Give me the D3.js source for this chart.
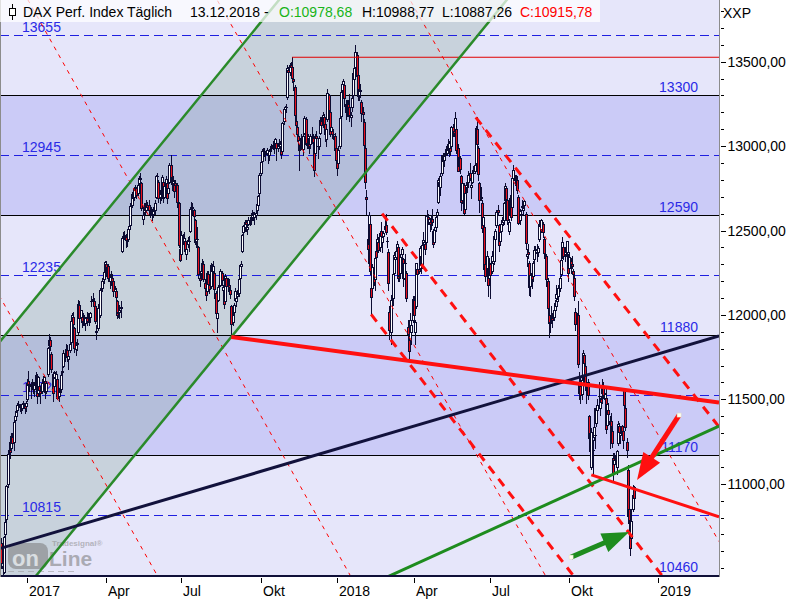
<!DOCTYPE html>
<html><head><meta charset="utf-8">
<script src="https://cdn.jsdelivr.net/npm/d3@7"></script>
<style>body{margin:0;background:#fff}svg{display:block}</style>
</head><body>
<svg id="chart" width="800" height="600"></svg>
<script>
// ---------------- DATA ----------------
// Xetra holidays inside the shown period (trading calendar = weekdays minus these)
const holidays = ["2016-12-26","2017-04-14","2017-04-17","2017-05-01","2017-12-25","2017-12-26",
  "2018-01-01","2018-03-30","2018-04-02","2018-05-01"];
const firstDay = "2016-12-01", lastDay = "2018-12-13";

// daily OHLC, one line per month (Dec 2016 ... Dec 2018)
const open = [
10650,10500,10480,10700,10790,11000,11180,11200,11210,11280,11250,11380,11400,11440,11470,11460,11450,11450,11480,11470,11460,
11500,11610,11590,11580,11580,11590,11560,11590,11640,11540,11580,11550,11550,11600,11600,11610,11550,11650,11820,11850,11770,11650,
11580,11630,11620,11620,11520,11550,11560,11660,11700,11770,11780,11790,11740,11790,11840,11970,11990,11920,11800,11830,
11900,12060,11980,11990,11960,11970,11950,11990,11980,11990,11990,12080,12090,12080,12050,11900,11920,12060,12000,12150,12160,12210,12260,
12300,12240,12290,12200,12230,12220,12200,12140,12140,12080,12010,12020,12040,12380,12460,12470,12460,12440,
12450,12510,12530,12650,12730,12700,12740,12750,12720,12780,12810,12780,12570,12610,12640,12620,12650,12650,12620,12610,12620,12600,
12620,12700,12820,12790,12700,12720,12740,12790,12700,12770,12780,12720,12790,12890,12800,12780,12780,12780,12770,12640,12660,12390,
12360,12460,12440,12440,12360,12420,12440,12500,12630,12640,12620,12560,12440,12450,12400,12220,12250,12280,12300,12190,12150,
12140,12240,12180,12170,12290,12260,12250,12130,11980,12090,12170,12180,12250,12150,12130,12080,12220,12180,12180,12150,12050,11960,12020,
12090,12080,12110,12130,12220,12290,12380,12490,12520,12550,12510,12540,12560,12560,12580,12600,12580,12590,12620,12650,12720,
12840,12910,12970,12970,12960,12960,12960,12950,12980,12990,13000,13000,13010,13020,12990,13010,13000,13000,12970,13150,13220,13230,
13290,13450,13440,13480,13470,13400,13350,13150,13110,13060,12980,12990,13040,12980,13080,13160,13020,13010,13050,13010,13060,13050,
13020,12960,13060,13000,13000,13080,13150,13140,13170,13130,13040,13160,13300,13200,13090,13090,13070,13060,12990,
12920,12900,13000,13180,13330,13370,13360,13250,13210,13250,13230,13170,13230,13300,13400,13470,13540,13420,13300,13330,13260,13200,
13140,12990,12700,12450,12420,12540,12160,12160,12250,12210,12380,12380,12430,12400,12500,12430,12470,12510,12530,12440,
12370,12020,11900,12120,12100,12250,12330,12380,12400,12230,12250,12360,12330,12220,12310,12250,11930,11880,11850,11900,11970,
12090,11900,12050,12270,12270,12280,12350,12300,12430,12420,12430,12590,12580,12550,12560,12570,12500,12430,12520,12590,
12670,12790,12760,12840,12940,12920,12950,12960,13010,12980,12990,13000,13110,13090,13100,13100,12990,12880,12930,12820,12680,12770,
12630,12760,12780,12790,12840,12760,12790,12840,12850,12900,13100,12990,12780,12700,12660,12530,12520,12300,12260,12280,12220,
12300,12260,12310,12320,12450,12530,12620,12530,12440,12500,12550,12560,12680,12750,12680,12500,12590,12690,12640,12810,12810,12790,
12800,12700,12560,12590,12640,12620,12650,12600,12350,12370,12310,12170,12250,12230,12330,12390,12370,12370,12450,12530,12510,12540,12450,
12340,12350,12200,12000,11950,11990,11980,11990,12030,12100,12080,12110,12160,12240,12350,12400,12360,12380,12370,12350,
12280,12320,12300,12260,12220,12020,11950,12000,11600,11580,11530,11630,11760,11700,11560,11600,11400,11300,11100,11200,11280,11290,11360,
11440,11520,11450,11500,11540,11570,11500,11510,11350,11440,11370,11370,11310,11150,11120,11170,11100,11240,11340,11290,11340,11310,
11560,11450,11250,11080,10850,10720,10680,10850,10978.68];
const high = [
10680,10580,10690,10790,10990,11200,11250,11230,11300,11300,11380,11430,11440,11480,11490,11470,11460,11480,11490,11480,11490,
11620,11670,11610,11600,11620,11600,11600,11660,11650,11640,11590,11580,11620,11640,11640,11620,11610,11810,11890,11870,11780,11660,
11670,11660,11670,11640,11570,11580,11660,11710,11790,11800,11830,11820,11770,11840,11980,12010,12020,11930,11840,11860,
12090,12080,12030,12010,12010,12000,11990,12020,12010,12000,12020,12110,12130,12100,12070,11940,12060,12090,12160,12170,12220,12270,12320,
12320,12300,12300,12240,12260,12240,12210,12170,12160,12090,12080,12060,12080,12470,12490,12500,12480,12460,
12520,12550,12660,12720,12740,12760,12770,12760,12780,12820,12840,12790,12620,12660,12660,12680,12670,12680,12640,12640,12630,12640,
12680,12830,12840,12800,12740,12740,12830,12800,12780,12820,12790,12770,12900,12950,12820,12820,12800,12800,12780,12690,12670,12440,
12500,12480,12490,12450,12410,12460,12470,12640,12670,12660,12630,12570,12470,12520,12410,12260,12290,12330,12320,12210,12170,
12260,12260,12200,12310,12300,12320,12260,12140,12030,12180,12190,12270,12260,12180,12140,12240,12230,12220,12210,12160,12060,12030,12070,
12160,12120,12150,12230,12300,12320,12480,12530,12560,12560,12540,12580,12580,12580,12620,12610,12610,12620,12670,12710,12840,
12910,12980,12990,12990,12970,12990,12970,12980,13000,13010,13030,13010,13050,13030,13020,13040,13030,13020,13140,13230,13240,13250,
13480,13470,13490,13500,13530,13420,13360,13180,13130,13090,13010,13070,13060,13070,13180,13170,13040,13070,13060,13070,13110,13070,
13040,13070,13090,13020,13060,13170,13170,13200,13190,13150,13120,13340,13310,13230,13140,13100,13100,13080,13000,
12950,13000,13180,13330,13380,13400,13370,13270,13270,13270,13310,13200,13300,13450,13470,13600,13560,13450,13360,13370,13270,13230,
13160,13000,12740,12490,12610,12550,12240,12300,12270,12350,12440,12480,12460,12500,12550,12480,12500,12560,12600,12460,
12390,12050,12110,12180,12260,12370,12380,12440,12410,12280,12360,12400,12340,12320,12360,12260,11970,11920,12010,11960,12110,
12110,11970,12310,12290,12350,12410,12360,12430,12490,12440,12590,12620,12600,12570,12590,12630,12510,12520,12590,12630,
12810,12810,12840,12950,12960,12960,12980,13010,13040,13030,13000,13120,13130,13130,13200,13110,13010,12950,12940,12830,12800,12780,
12740,12790,12800,12850,12900,12780,12860,12880,12910,13120,13170,13000,12790,12760,12680,12600,12540,12330,12380,12290,12340,
12310,12380,12350,12470,12510,12620,12650,12540,12520,12560,12590,12670,12780,12760,12700,12570,12710,12720,12830,12890,12830,12830,
12820,12710,12630,12620,12680,12660,12680,12610,12390,12420,12320,12260,12270,12320,12410,12410,12420,12410,12560,12560,12570,12550,12460,
12370,12360,12220,12050,12000,12050,12010,12070,12090,12180,12110,12180,12230,12350,12460,12420,12400,12430,12440,12360,
12370,12340,12350,12270,12240,12040,12010,12080,11660,11640,11630,11790,11770,11720,11600,11620,11410,11360,11330,11260,11450,11330,11460,
11500,11600,11510,11520,11620,11600,11540,11560,11480,11480,11400,11420,11360,11180,11180,11190,11200,11370,11360,11330,11350,11330,
11570,11470,11270,11110,10900,10760,10850,10990,10988.77];
const low = [
10500,10420,10474,10680,10770,10980,11150,11150,11190,11220,11200,11370,11380,11420,11450,11430,11420,11440,11450,11420,11430,
11490,11570,11550,11510,11560,11540,11520,11560,11480,11530,11520,11480,11540,11570,11580,11510,11540,11640,11810,11790,11660,11490,
11560,11580,11590,11500,11490,11520,11550,11640,11690,11730,11750,11730,11680,11780,11830,11950,11930,11780,11760,11790,
11890,11970,11960,11930,11940,11940,11910,11940,11960,11940,11960,12050,12070,12030,11950,11860,11910,12020,11990,12110,12140,12190,12240,
12230,12230,12200,12160,12180,12180,12110,12110,12090,11980,11990,11980,11990,12370,12430,12450,12400,12410,
12440,12480,12520,12640,12670,12680,12730,12690,12710,12760,12790,12620,12540,12600,12600,12610,12620,12600,12580,12590,12560,12580,
12600,12690,12790,12670,12660,12680,12730,12670,12690,12740,12660,12700,12780,12800,12740,12750,12700,12750,12650,12600,12400,12320,
12350,12420,12420,12360,12330,12400,12380,12490,12610,12600,12570,12420,12400,12380,12220,12170,12210,12260,12200,12120,12090,
12130,12150,12130,12160,12240,12240,12100,12000,11900,12080,12140,12170,12180,12080,12040,12070,12150,12140,12130,12100,11870,11940,12000,
12080,12050,12080,12110,12170,12270,12370,12470,12500,12500,12480,12530,12530,12540,12560,12560,12540,12570,12600,12630,12710,
12830,12900,12940,12940,12920,12950,12900,12920,12960,12970,12980,12960,12990,12920,12970,12990,12970,12930,12960,13130,13190,13200,
13280,13400,13420,13440,13380,13330,13140,13080,13030,12990,12860,12980,12980,12950,13070,13010,12990,12990,12960,12990,13020,12990,
12820,12950,13030,12930,12980,13070,13100,13110,13110,13030,13000,13150,13200,13060,13070,13050,13040,12960,12900,
12830,12890,12990,13170,13300,13320,13240,13160,13180,13180,13150,13120,13210,13290,13380,13460,13380,13270,13270,13290,13150,13140,
12980,12750,12600,12310,12400,12240,12000,12130,12180,12150,12330,12360,12370,12380,12460,12370,12440,12500,12480,12400,
12150,11860,11830,12080,12060,12220,12290,12370,12200,12200,12220,12330,12170,12210,12280,12080,11830,11730,11840,11830,11960,
11950,11830,12040,12160,12250,12270,12250,12280,12420,12360,12420,12550,12540,12500,12510,12530,12400,12420,12500,12570,
12660,12720,12710,12830,12880,12880,12930,12950,12970,12940,12950,12990,13060,13060,13090,12960,12850,12860,12840,12620,12660,12600,
12610,12730,12730,12760,12800,12690,12780,12820,12840,12880,13000,12800,12610,12680,12490,12510,12250,12200,12240,12110,12200,
12100,12250,12280,12300,12370,12520,12590,12380,12430,12480,12530,12540,12670,12670,12540,12480,12580,12560,12610,12790,12770,12740,
12720,12540,12540,12570,12620,12600,12630,12390,12290,12340,12120,12110,12160,12200,12310,12340,12320,12350,12440,12500,12490,12460,12350,
12300,12170,11990,11870,11900,11950,11930,11970,12000,12080,12050,12090,12140,12230,12340,12330,12320,12350,12340,12200,
12270,12250,12280,12170,12090,11910,11920,11690,11500,11480,11500,11610,11670,11560,11480,11500,11230,11180,11090,11050,11260,11210,11340,
11410,11470,11410,11460,11480,11510,11480,11300,11340,11360,11210,11300,11220,11010,11100,11110,11060,11230,11250,11240,11260,11210,
11430,11320,11160,10770,10700,10580,10650,10840,10887.26];
const close = [
10534,10513,10684,10775,10986,11179,11203,11190,11284,11244,11366,11404,11427,11464,11468,11456,11450,11473,11475,11451,11481,
11598,11584,11585,11585,11599,11563,11583,11646,11521,11630,11555,11540,11599,11599,11630,11545,11595,11806,11849,11815,11682,11535,
11659,11627,11651,11509,11549,11543,11642,11667,11774,11772,11793,11757,11757,11827,11967,11998,11948,11804,11823,11834,
12067,11984,12027,11958,11966,11967,11979,11963,11990,11989,12009,12083,12095,12052,11962,11904,12040,12064,12149,12149,12203,12256,12313,
12257,12282,12218,12230,12225,12200,12139,12155,12109,12000,12016,12027,12048,12455,12467,12472,12443,12438,
12507,12528,12648,12717,12694,12749,12757,12711,12770,12808,12804,12631,12590,12638,12619,12659,12642,12622,12602,12628,12599,12615,
12664,12823,12823,12690,12722,12714,12816,12690,12765,12805,12691,12753,12889,12814,12774,12794,12733,12771,12671,12647,12416,12325,
12475,12437,12453,12381,12389,12445,12437,12627,12641,12632,12587,12430,12452,12447,12240,12209,12263,12305,12212,12162,12118,
12251,12181,12154,12298,12258,12292,12154,12014,12014,12165,12177,12263,12204,12165,12066,12230,12174,12181,12168,12124,11946,12002,12056,
12143,12102,12123,12215,12297,12304,12476,12524,12553,12540,12519,12560,12561,12569,12601,12592,12595,12606,12657,12705,12829,
12903,12970,12970,12968,12956,12976,12949,12971,12983,12992,13004,12996,13044,12990,13003,13004,13014,12953,13134,13218,13229,13230,
13465,13440,13479,13468,13406,13383,13182,13127,13074,13033,12976,13047,12994,13059,13168,13015,13009,13060,13000,13060,13061,13024,
12861,13058,13049,12999,13045,13154,13123,13183,13126,13069,13104,13312,13215,13070,13110,13073,13070,12979,12918,
12871,12978,13167,13320,13367,13386,13282,13202,13245,13201,13184,13183,13282,13434,13464,13560,13414,13298,13340,13324,13198,13189,
13004,12785,12687,12392,12590,12261,12107,12282,12196,12339,12346,12452,12385,12488,12470,12461,12484,12527,12490,12436,
12190,11913,12090,12114,12245,12355,12346,12418,12221,12237,12345,12390,12217,12308,12307,12101,11886,11787,11970,11940,12097,
12002,11957,12305,12241,12261,12397,12294,12415,12442,12392,12585,12591,12567,12540,12572,12550,12422,12501,12581,12612,
12802,12763,12820,12948,12912,12943,12955,13001,12977,13018,12970,13115,13078,13078,13169,12977,12855,12938,12863,12666,12783,12605,
12724,12771,12788,12830,12811,12767,12843,12842,12890,13107,13011,12834,12678,12695,12512,12580,12270,12233,12349,12177,12306,
12238,12350,12318,12465,12496,12609,12609,12417,12492,12541,12581,12661,12765,12687,12561,12549,12690,12579,12809,12860,12799,12806,
12737,12546,12616,12599,12648,12634,12676,12424,12358,12358,12163,12238,12211,12310,12384,12386,12366,12395,12538,12527,12561,12494,12364,
12346,12210,12040,11955,11960,11986,11971,12032,12055,12124,12096,12157,12219,12327,12431,12350,12375,12385,12435,12247,
12346,12287,12287,12244,12111,11947,11977,11712,11539,11524,11614,11777,11715,11589,11554,11524,11274,11192,11307,11201,11336,11287,11447,
11468,11519,11495,11484,11579,11527,11529,11325,11472,11412,11354,11341,11244,11066,11139,11136,11193,11355,11309,11299,11298,11257,
11465,11335,11200,10811,10788,10622,10780,10931,10915.78];

// horizontal levels
const solidLevels  = [13300, 12590, 11880, 11170, 10460];
const dashedLevels = [13655, 12945, 12235, 11525, 10815];
const shadedBands  = [[12590, 13300], [11170, 11880]];
const resistanceRed = 13526;            // thin red horizontal from the Nov-2017 high
const resistanceStart = 239;             // trading-day index of 2017-11-07

// axis
const yMajorTicks = [11000, 11500, 12000, 12500, 13000, 13500];
const yMinorTicks = d3.range(10500, 13900, 100);
const xTickDates  = ["2017-01-02","2017-04-03","2017-07-03","2017-10-02","2018-01-02","2018-04-03","2018-07-02","2018-10-01","2019-01-02"];
const xTickLabels = ["2017","Apr","Jul","Okt","2018","Apr","Jul","Okt","2019"];

// drawn lines: [tradingDayIndex, value] anchors
const channelUpper = [[-2, 11836], [240, 13969]];
const channelLower = [[-2, 10187], [420, 13905]];
const navyLine     = [[-2, 10615], [590, 11876]];
const redThick     = [[189, 11870], [590, 11481]];
const redLower     = [[485, 11053], [590, 10805]];
const greenLower   = [[300, 10392], [590, 11342]];
const dashThick = [
  [[390, 13170], [590, 11337]],
  [[313, 12600], [545, 10440]],
  [[304, 12003], [472, 10440]]];
const dashThin = [
  [[-2, 12117], [130, 10433]],
  [[18, 13914], [290, 10416]],
  [[174, 13907], [450, 10422]],
  [[333, 13903], [590, 10658]]];
const redArrow   = [[557.2, 11407], [522.6, 11022]];
const greenArrow = [[468.4, 10566], [516.1, 10714]];

// ---------------- CHART ----------------
const FONT = "'Liberation Sans', Arial, sans-serif";
const svg = d3.select("#chart");
const plotW = 719, plotH = 576;

// trading calendar
const dates = [];
for (let t = Date.parse(firstDay + "T00:00:00Z"); t <= Date.parse(lastDay + "T00:00:00Z"); t += 864e5) {
  const d = new Date(t), wd = d.getUTCDay(), s = d.toISOString().slice(0, 10);
  if (wd > 0 && wd < 6 && !holidays.includes(s)) dates.push(s);
}
function dateIndex(s) {
  const k = dates.indexOf(s);
  if (k >= 0) return k;
  // future area: spaced by calendar days after the last bar
  return dates.length - 1 + (Date.parse(s) - Date.parse(lastDay)) / 864e5;
}

const x = d3.scaleLinear().domain([-1.2, 590]).range([0, 719]);
const y = d3.scaleLinear().domain([10460, 13865]).range([575, 0]);

// background
svg.append("rect").attr("width", 800).attr("height", 600).attr("fill", "#fff");
svg.append("defs").append("clipPath").attr("id", "plot")
  .append("rect").attr("x", 0).attr("y", 0).attr("width", plotW).attr("height", plotH);
const plot = svg.append("g").attr("clip-path", "url(#plot)");
plot.append("rect").attr("width", plotW).attr("height", plotH).attr("fill", "#e6e6fa");
plot.selectAll(".band").data(shadedBands).join("rect")
  .attr("x", 0).attr("width", plotW)
  .attr("y", d => y(d[1])).attr("height", d => y(d[0]) - y(d[1]))
  .attr("fill", "#cbcbf7");

// channel fill
const line = d3.line().x(d => x(d[0])).y(d => y(d[1]));
plot.append("path")
  .attr("d", line([channelUpper[0], channelUpper[1], channelLower[1], channelLower[0]]) + "Z")
  .attr("fill", "rgb(110,150,130)").attr("fill-opacity", 0.25);

// levels
plot.selectAll(".sl").data(solidLevels).join("line")
  .attr("x1", 0).attr("x2", plotW)
  .attr("y1", d => Math.round(y(d)) + 0.5).attr("y2", d => Math.round(y(d)) + 0.5)
  .attr("stroke", "#000").attr("stroke-width", 1);
plot.selectAll(".dl").data(dashedLevels).join("line")
  .attr("x1", 0).attr("x2", plotW)
  .attr("y1", d => Math.round(y(d)) + 0.5).attr("y2", d => Math.round(y(d)) + 0.5)
  .attr("stroke", "#1f1fe0").attr("stroke-width", 1).attr("stroke-dasharray", "9,5");
plot.selectAll(".sll").data(solidLevels).join("text")
  .attr("x", 698).attr("y", d => y(d) - 3.5).attr("text-anchor", "end")
  .attr("font-family", FONT).attr("font-size", 14).attr("fill", "#2a2ae6").text(d => d);
plot.selectAll(".dll").data(dashedLevels).join("text")
  .attr("x", 22).attr("y", d => y(d) - 3.5)
  .attr("font-family", FONT).attr("font-size", 14).attr("fill", "#2a2ae6").text(d => d);

// logo
const logo = plot.append("g").attr("opacity", 0.55);
logo.append("rect").attr("x", 8).attr("y", 543).attr("width", 40).attr("height", 26).attr("rx", 8).attr("fill", "#7a7a7a");
logo.append("text").attr("x", 12).attr("y", 566).attr("font-family", FONT).attr("font-weight", "bold")
  .attr("font-size", 22).attr("fill", "#e8e8e8").text("on");
logo.append("text").attr("x", 49).attr("y", 566).attr("font-family", FONT).attr("font-weight", "bold")
  .attr("font-size", 21).attr("fill", "#7a7a7a").text("Line");
logo.append("text").attr("x", 52).attr("y", 546).attr("font-family", FONT).attr("font-weight", "bold")
  .attr("font-size", 8).attr("fill", "#8a8a8a").text("Tradesignal®");
logo.append("line").attr("x1", 8).attr("x2", 75).attr("y1", 571.5).attr("y2", 571.5)
  .attr("stroke", "#999").attr("stroke-dasharray", "6,4");

// candles
const cg = plot.append("g");
const n = Math.min(open.length, high.length, low.length, close.length, dates.length);
for (let i = 0; i < n; i++) {
  const bx = Math.round(x(i));
  const up = close[i] >= open[i];
  const top = Math.round(y(Math.max(open[i], close[i])));
  const bot = Math.round(y(Math.min(open[i], close[i])));
  cg.append("line").attr("x1", bx + 0.5).attr("x2", bx + 0.5)
    .attr("y1", Math.round(y(high[i]))).attr("y2", Math.round(y(low[i])) + 1)
    .attr("stroke", "#0c0c32").attr("stroke-width", 1);
  cg.append("rect").attr("x", bx - 1).attr("y", top).attr("width", 3).attr("height", Math.max(1, bot - top + 1))
    .attr("fill", "#0c0c32");
  if (bot - top > 1) {
    cg.append("rect").attr("x", bx).attr("y", top + 1).attr("width", 1).attr("height", bot - top - 1)
      .attr("fill", up ? "#ffffff" : "#e8101a");
  }
}

// trend lines
plot.append("path").attr("d", line([[resistanceStart, resistanceRed], [590, resistanceRed]]))
  .attr("stroke", "#e00000").attr("stroke-width", 1.2).attr("fill", "none");
dashThin.forEach(a => plot.append("path").attr("d", line(a)).attr("fill", "none")
  .attr("stroke", "#ff0000").attr("stroke-width", 1).attr("stroke-dasharray", "4,5"));
dashThick.forEach(a => plot.append("path").attr("d", line(a)).attr("fill", "none")
  .attr("stroke", "#ff1010").attr("stroke-width", 3).attr("stroke-dasharray", "9,7"));
[channelUpper, channelLower].forEach(a => plot.append("path").attr("d", line(a)).attr("fill", "none")
  .attr("stroke", "#2a8a2a").attr("stroke-width", 2.5));
plot.append("path").attr("d", line(navyLine)).attr("fill", "none").attr("stroke", "#12123c").attr("stroke-width", 3);
plot.append("path").attr("d", line(greenLower)).attr("fill", "none").attr("stroke", "#1e8c1e").attr("stroke-width", 3);
plot.append("path").attr("d", line(redThick)).attr("fill", "none").attr("stroke", "#ff1010").attr("stroke-width", 4);
plot.append("path").attr("d", line(redLower)).attr("fill", "none").attr("stroke", "#ff1010").attr("stroke-width", 3);

// arrows
function arrow(a, color, w) {
  const x0 = x(a[0][0]), y0 = y(a[0][1]), x1 = x(a[1][0]), y1 = y(a[1][1]);
  const L = Math.hypot(x1 - x0, y1 - y0), ux = (x1 - x0) / L, uy = (y1 - y0) / L;
  const hl = 27, hw = 10, bx = x1 - ux * hl, by = y1 - uy * hl;
  plot.append("line").attr("x1", x0).attr("y1", y0).attr("x2", bx + ux * 4).attr("y2", by + uy * 4)
    .attr("stroke", color).attr("stroke-width", w);
  plot.append("polygon").attr("points", [[x1, y1], [bx - uy * hw, by + ux * hw], [bx + uy * hw, by - ux * hw]].join(" "))
    .attr("fill", color);
  plot.append("rect").attr("x", x0 - 2).attr("y", y0 - 2).attr("width", 4).attr("height", 4)
    .attr("fill", "#fffff0").attr("stroke", "#e0e0c0").attr("stroke-width", 0.5);
}
arrow(redArrow, "#ff1010", 5);
arrow(greenArrow, "#1e8c1e", 5);

// frame
svg.append("line").attr("x1", 0).attr("x2", plotW).attr("y1", 576).attr("y2", 576)
  .attr("stroke", "#101038").attr("stroke-width", 2);
svg.append("line").attr("x1", 719.5).attr("x2", 719.5).attr("y1", 0).attr("y2", 577)
  .attr("stroke", "#8c8c8c").attr("stroke-width", 1);
svg.append("line").attr("x1", 0.5).attr("x2", 0.5).attr("y1", 0).attr("y2", 577)
  .attr("stroke", "#8c8c8c").attr("stroke-width", 1);

// right axis
svg.selectAll(".ymin").data(yMinorTicks).join("line")
  .attr("x1", 721).attr("x2", 724).attr("y1", d => Math.round(y(d)) + 0.5).attr("y2", d => Math.round(y(d)) + 0.5)
  .attr("stroke", "#000");
svg.selectAll(".ymaj").data(yMajorTicks).join("line")
  .attr("x1", 721).attr("x2", 726).attr("y1", d => Math.round(y(d)) + 0.5).attr("y2", d => Math.round(y(d)) + 0.5)
  .attr("stroke", "#000");
svg.selectAll(".ylab").data(yMajorTicks).join("text")
  .attr("x", 727.5).attr("y", d => y(d) + 5)
  .attr("font-family", FONT).attr("font-size", 14).attr("fill", "#000")
  .text(d => d.toFixed(2).replace(".", ","));
svg.append("text").attr("x", 723).attr("y", 18).attr("font-family", FONT).attr("font-size", 14).text("XXP");

// bottom axis
const xt = xTickDates.map((s, k) => ({ pos: Math.round(x(dateIndex(s))), label: xTickLabels[k] }));
svg.selectAll(".xt").data(xt).join("line")
  .attr("x1", d => d.pos + 0.5).attr("x2", d => d.pos + 0.5).attr("y1", 578).attr("y2", 583).attr("stroke", "#000");
svg.selectAll(".xl").data(xt).join("text")
  .attr("x", d => d.pos + 2).attr("y", 595.5)
  .attr("font-family", FONT).attr("font-size", 14).attr("fill", "#000").text(d => d.label);

// header
const last = n - 1;
const fmt = v => v.toFixed(2).replace(".", ",");
svg.append("rect").attr("x", 0).attr("y", 0).attr("width", 600).attr("height", 22)
  .attr("fill", "#ffffff").attr("fill-opacity", 0.72);
svg.append("line").attr("x1", 12.5).attr("x2", 12.5).attr("y1", 4).attr("y2", 20).attr("stroke", "#000");
svg.append("rect").attr("x", 9.5).attr("y", 8.5).attr("width", 6).attr("height", 7)
  .attr("fill", "#fff").attr("stroke", "#000");
const headerParts = [
  { x: 23,  t: "DAX Perf. Index Täglich", c: "#000" },
  { x: 190, t: "13.12.2018 -", c: "#000" },
  { x: 279, t: "O:" + fmt(open[last]), c: "#18b418" },
  { x: 362, t: "H:" + fmt(high[last]), c: "#000" },
  { x: 442, t: "L:" + fmt(low[last]), c: "#000" },
  { x: 520, t: "C:" + fmt(close[last]), c: "#ff0000" }];
svg.selectAll(".hdr").data(headerParts).join("text")
  .attr("x", d => d.x).attr("y", 17).attr("font-family", FONT).attr("font-size", 14)
  .attr("fill", d => d.c).text(d => d.t);
</script>
</body></html>
